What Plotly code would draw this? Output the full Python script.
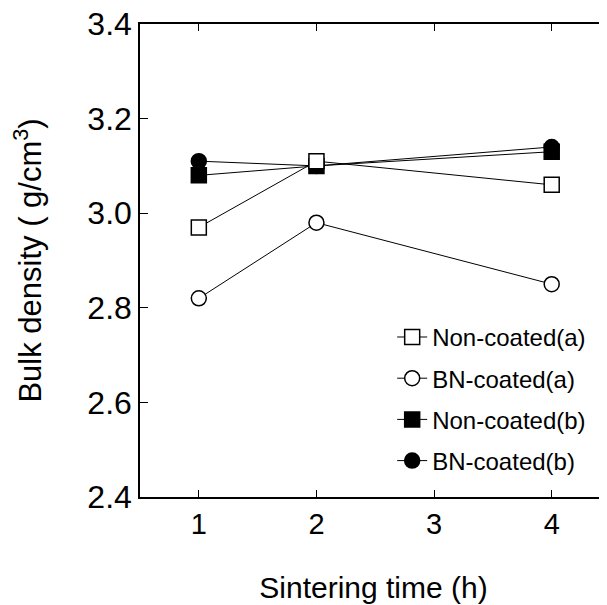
import plotly.graph_objects as go

time_h = [1, 2, 4]
noncoated_a = [2.97, 3.11, 3.06]
bn_coated_a = [2.82, 2.98, 2.85]
noncoated_b = [3.08, 3.10, 3.13]
bn_coated_b = [3.11, 3.10, 3.14]

x_ticks = [1, 2, 3, 4]
y_ticks = [2.4, 2.6, 2.8, 3.0, 3.2, 3.4]

FONT = "Liberation Sans, Arial, Helvetica, sans-serif"

series = [
    # (name, values, symbol, rank)
    ("BN-coated(b)", bn_coated_b, "circle", 4),
    ("Non-coated(b)", noncoated_b, "square", 3),
    ("BN-coated(a)", bn_coated_a, "circle-open", 2),
    ("Non-coated(a)", noncoated_a, "square-open", 1),
]

fig = go.Figure()
for name, vals, sym, rank in series:
    filled = not sym.endswith("open")
    fig.add_trace(go.Scatter(
        x=time_h, y=vals, name=name, mode="lines+markers",
        line=dict(color="black", width=1),
        marker=dict(symbol="square" if "square" in sym else "circle",
                    size=15,
                    color="black" if filled else "white",
                    line=dict(color="black", width=1.5)),
        legendrank=rank, legendgroup=name,
    ))

# page body adds an 8px offset, so the figure is sized to compensate
fig.update_layout(
    width=599, height=597,
    margin=dict(l=132, r=0, t=16, b=108),
    paper_bgcolor="white", plot_bgcolor="white",
    font=dict(family=FONT, color="black"),
    showlegend=True,
    legend=dict(
        x=0.54, y=0.385, xanchor="left", yanchor="top",
        font=dict(size=24, family=FONT),
        traceorder="grouped", tracegroupgap=7,
        bgcolor="rgba(0,0,0,0)", borderwidth=0,
    ),
)

fig.update_xaxes(
    range=[0.5, 4.47], tickvals=x_ticks, ticktext=[str(v) for v in x_ticks],
    ticks="inside", ticklen=7, tickwidth=1, tickcolor="black",
    showline=True, linecolor="black", linewidth=1.5, mirror="ticks",
    showgrid=False, zeroline=False, automargin=False,
    ticklabeloverflow="allow",
    tickfont=dict(size=29, family=FONT),
    title=dict(text="Sintering time (h)", font=dict(size=30, family=FONT), standoff=38),
)
fig.update_yaxes(
    range=[2.4, 3.4], tickvals=y_ticks, ticktext=[f"{v:.1f}" for v in y_ticks],
    ticks="inside", ticklen=8, tickwidth=1, tickcolor="black",
    showline=True, linecolor="black", linewidth=1.5, mirror=False,
    showgrid=False, zeroline=False, automargin=False,
    ticklabeloverflow="allow",
    tickfont=dict(size=32, family=FONT),
    title=dict(text="Bulk density ( g/cm<sup>3</sup>)", font=dict(size=31, family=FONT), standoff=39),
)

fig.write_html("out.html")
